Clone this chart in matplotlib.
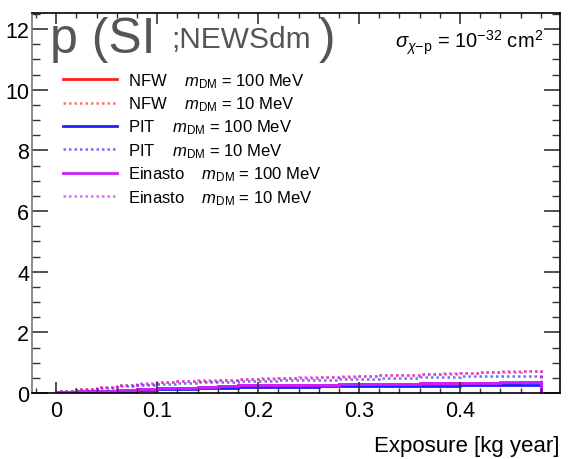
import matplotlib
matplotlib.use("Agg")
import matplotlib.pyplot as plt
from matplotlib.ticker import MultipleLocator

plt.rcParams['font.family'] = ['Liberation Sans', 'DejaVu Sans']
plt.rcParams['mathtext.fontset'] = 'custom'
plt.rcParams['mathtext.rm'] = 'Liberation Sans'
plt.rcParams['mathtext.it'] = 'Liberation Sans:italic'

# Exposure bin edges [kg year]
edges = [0.0, 0.02, 0.04, 0.06, 0.08, 0.10, 0.12, 0.14, 0.16, 0.18, 0.20, 0.22, 0.24,
         0.26, 0.28, 0.30, 0.32, 0.34, 0.36, 0.38, 0.40, 0.42, 0.44, 0.46, 0.48]

# m_DM = 100 MeV
nfw_100 = [0.02, 0.05, 0.08, 0.10, 0.12, 0.15, 0.18, 0.20, 0.22, 0.25, 0.26, 0.26,
           0.27, 0.28, 0.29, 0.30, 0.30, 0.31, 0.32, 0.33, 0.33, 0.34, 0.34, 0.35]
pit_100 = [0.01, 0.03, 0.05, 0.08, 0.10, 0.12, 0.14, 0.16, 0.18, 0.20, 0.20, 0.21,
           0.21, 0.22, 0.22, 0.23, 0.23, 0.24, 0.24, 0.24, 0.25, 0.25, 0.26, 0.26]
ein_100 = [0.03, 0.06, 0.08, 0.11, 0.13, 0.16, 0.18, 0.21, 0.23, 0.25, 0.26, 0.27,
           0.28, 0.28, 0.29, 0.30, 0.31, 0.31, 0.32, 0.33, 0.33, 0.34, 0.35, 0.35]

# m_DM = 10 MeV
nfw_10 = [0.06, 0.13, 0.20, 0.26, 0.31, 0.35, 0.38, 0.41, 0.43, 0.45, 0.47, 0.49,
          0.51, 0.52, 0.54, 0.56, 0.58, 0.60, 0.62, 0.64, 0.66, 0.68, 0.70, 0.71]
pit_10 = [0.05, 0.11, 0.17, 0.22, 0.27, 0.30, 0.33, 0.35, 0.37, 0.39, 0.41, 0.42,
          0.43, 0.44, 0.45, 0.47, 0.48, 0.50, 0.52, 0.54, 0.55, 0.56, 0.57, 0.57]
ein_10 = [0.07, 0.14, 0.21, 0.27, 0.32, 0.36, 0.39, 0.42, 0.44, 0.46, 0.48, 0.50,
          0.52, 0.53, 0.55, 0.57, 0.59, 0.61, 0.63, 0.65, 0.67, 0.69, 0.71, 0.73]

red, blue, mag = '#ff1f1f', '#1f1fff', '#cc1fff'

fig = plt.figure(figsize=(5.68, 4.60), dpi=100)
ax = fig.add_axes([32 / 568, 66 / 460, 528 / 568, 380 / 460])

dot = (0, (1, 1.2))
sp = '    '
ax.stairs(nfw_100, edges, color=red, lw=2.0, label='NFW' + sp + r'$m_{\rm DM}$ = 100 MeV')
ax.stairs(nfw_10, edges, color=red, lw=1.8, ls=dot, alpha=0.65, label='NFW' + sp + r'$m_{\rm DM}$ = 10 MeV')
ax.stairs(pit_100, edges, color=blue, lw=2.0, label='PIT' + sp + r'$m_{\rm DM}$ = 100 MeV')
ax.stairs(pit_10, edges, color=blue, lw=1.8, ls=dot, alpha=0.65, label='PIT' + sp + r'$m_{\rm DM}$ = 10 MeV')
ax.stairs(ein_100, edges, color=mag, lw=2.0, label='Einasto' + sp + r'$m_{\rm DM}$ = 100 MeV')
ax.stairs(ein_10, edges, color=mag, lw=1.8, ls=dot, alpha=0.65, label='Einasto' + sp + r'$m_{\rm DM}$ = 10 MeV')

ax.set_xlim(-0.024, 0.499)
ax.set_ylim(0, 12.53)
ax.xaxis.set_major_locator(MultipleLocator(0.1))
ax.xaxis.set_minor_locator(MultipleLocator(0.02))
ax.yaxis.set_major_locator(MultipleLocator(2))
ax.yaxis.set_minor_locator(MultipleLocator(0.5))
ax.xaxis.set_major_formatter(plt.FuncFormatter(lambda v, p: '0' if abs(v) < 1e-9 else f'{v:.1f}'))
ax.tick_params(which='both', direction='in', top=True, right=True, colors='#333333',
               labelcolor='black', labelsize=15.5)
ax.tick_params(axis='y', which='major', length=11.5, width=1.2, pad=2)
ax.tick_params(axis='y', which='minor', length=5.5, width=1)
ax.tick_params(axis='x', which='major', length=7.7, width=1.2, pad=5)
ax.tick_params(axis='x', which='minor', length=3.5, width=1)
for s in ax.spines.values():
    s.set_linewidth(1.2)
ax.spines['left'].set_color('#777777')

ax.legend(loc='upper left', bbox_to_anchor=(63 / 568, 1 - 72 / 460),
          bbox_transform=fig.transFigure, borderaxespad=0, borderpad=0,
          frameon=False, fontsize=12, handlelength=3.25, handletextpad=0.66,
          labelspacing=0.28)

fig.text(50 / 568, 1 - 53 / 460, 'p (SI', fontsize=36, color='#555555', ha='left', va='baseline')
fig.text(171 / 568, 1 - 48 / 460, ';NEWSdm', fontsize=21.5, color='#555555', ha='left', va='baseline')
fig.text(319 / 568, 1 - 53 / 460, ')', fontsize=36, color='#555555', ha='left', va='baseline')

ax.text(0.968, 0.9105, r'$\sigma_{\chi\mathrm{-p}}$ = 10$^{\mathrm{-32}}$ cm$^{2}$', transform=ax.transAxes,
        fontsize=14.5, ha='right', va='baseline')

fig.text(559 / 568, 8 / 460, 'Exposure [kg year]', fontsize=16, ha='right', va='baseline')

fig.savefig('out.png', dpi=100)
